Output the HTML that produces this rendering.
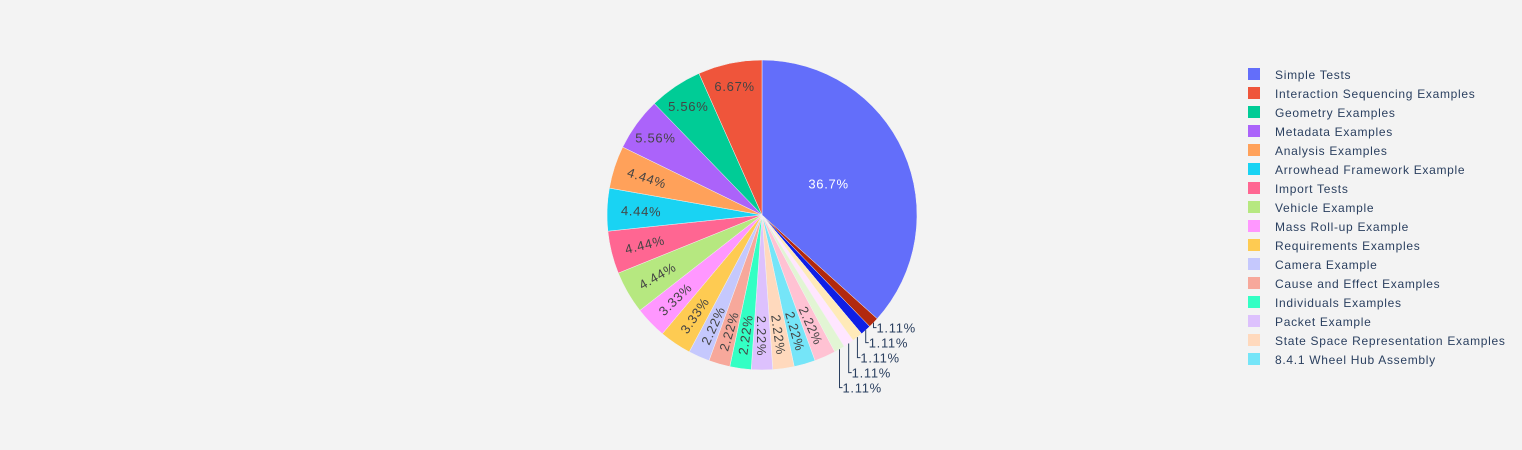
<!DOCTYPE html>
<html><head><meta charset="utf-8"><style>
html,body{margin:0;padding:0;background:#f3f3f3;}
svg{display:block;font-family:"Liberation Sans",Arial,sans-serif;}
</style></head><body>
<svg id="chart" width="1522" height="450" xmlns="http://www.w3.org/2000/svg">
<rect width="1522" height="450" fill="#f3f3f3"/>
<g id="slices"></g>
<g id="labels" letter-spacing="0.7"></g>
<g id="legend" letter-spacing="0.7"></g>
</svg>
<script>
const categories = ["Simple Tests","Interaction Sequencing Examples","Geometry Examples","Metadata Examples","Analysis Examples","Arrowhead Framework Example","Import Tests","Vehicle Example","Mass Roll-up Example","Requirements Examples","Camera Example","Cause and Effect Examples","Individuals Examples","Packet Example","State Space Representation Examples","8.4.1 Wheel Hub Assembly","Slice 17","Slice 18","Slice 19","Slice 20","Slice 21","Slice 22"];
const values = [33,6,5,5,4,4,4,4,3,3,2,2,2,2,2,2,2,1,1,1,1,1];
const colors = ["#636efa","#EF553B","#00cc96","#ab63fa","#FFA15A","#19d3f3","#FF6692","#B6E880","#FF97FF","#FECB52","#c5c8fd","#f7a89b","#33ffc4","#ddc1fd","#ffd9bd","#75e5f8","#ffc2d3","#e2f5d4","#ffe6ff","#ffeab9","#0f1fe6","#b2290f"];
const legendCount = 16;

const NS="http://www.w3.org/2000/svg";
const cx=762, cy=215, R=155;
const total=values.reduce((a,b)=>a+b,0);
function pt(a,r){return [cx+r*Math.sin(a*Math.PI/180), cy-r*Math.cos(a*Math.PI/180)];}
function mk(t,attrs,parent){const e=document.createElementNS(NS,t);for(const k in attrs)e.setAttribute(k,attrs[k]);parent.appendChild(e);return e;}
const gS=document.getElementById('slices'), gL=document.getElementById('labels'), gLeg=document.getElementById('legend');
const order=[0];for(let i=values.length-1;i>=1;i--)order.push(i);
let ang=0; let prevY=-1e9;
order.forEach(i=>{
  const frac=values[i]/total, span=frac*360, a0=ang, a1=ang+span, mid=ang+span/2; ang=a1;
  const p0=pt(a0,R), p1=pt(a1,R);
  const path=mk('path',{d:`M${cx},${cy}L${p0[0]},${p0[1]}A${R},${R} 0 ${span>180?1:0} 1 ${p1[0]},${p1[1]}Z`,fill:colors[i],stroke:'#f3f3f3','stroke-width':0.5},gS);
  
  
  const txt=(frac*100).toFixed(frac>=0.1?1:2)+'%';
  let t;
  if(frac<0.015){
    const e=pt(mid,R);
    let ly=Math.max(e[1]+5,prevY+15); prevY=ly;
    const lx=e[0]+3;
    const pl=mk('polyline',{points:`${e[0]},${e[1]} ${e[0]},${ly} ${lx},${ly}`,fill:'none',stroke:'#2a3f5f','stroke-width':1},gL);
    
    
    t=mk('text',{x:lx,y:ly+5,'font-size':13,fill:'#2a3f5f'},gL);
  } else if(frac>0.3){
    const c=pt(mid,R*0.47);
    t=mk('text',{x:c[0],y:c[1]+3,'font-size':13,fill:'#fff','text-anchor':'middle'},gL);
  } else if(frac>0.05){
    const c=pt(mid,R*0.85);
    t=mk('text',{x:c[0],y:c[1]+5,'font-size':13,fill:'#444','text-anchor':'middle'},gL);
  } else {
    const c=pt(mid,R*0.78);
    let rot=mid-90;
    while(rot>90)rot-=180; while(rot<=-90)rot+=180;
    t=mk('text',{x:c[0],y:c[1]+5,'font-size':13,fill:'#444','text-anchor':'middle',transform:`rotate(${rot} ${c[0]} ${c[1]})`},gL);
  }
  t.textContent=txt;
  
  
});
for(let i=0;i<legendCount;i++){
  const y=74+i*19;
  const g=mk('g',{},gLeg);
  
  
  mk('rect',{x:1248,y:y-6,width:12,height:12,fill:colors[i]},g);
  const t=mk('text',{x:1275,y:y+5,'font-size':12,fill:'#2a3f5f'},g);
  t.textContent=categories[i];
}
</script>
</body></html>
